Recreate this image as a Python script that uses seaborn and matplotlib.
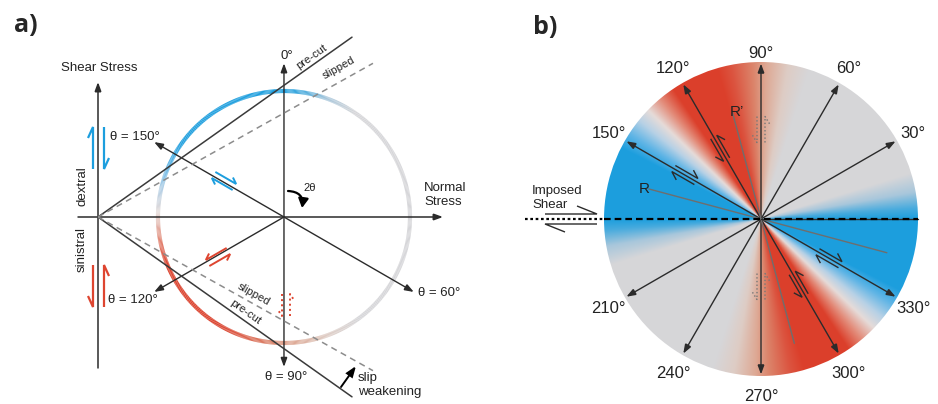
import numpy as np
import pandas as pd
import matplotlib
matplotlib.use("Agg")
import matplotlib.pyplot as plt
import seaborn as sns
from matplotlib.collections import LineCollection
from matplotlib.patches import Circle, FancyArrowPatch

# ---------------- data ----------------
# panel a : Mohr circle in stress units (circle radius = 1)
mohr_center = 1.476
mohr_radius = 1.0
plane_thetas = [0, 60, 90, 120, 150]          # plane angle θ -> radius at 2θ on the circle
plane_radius = [1.22, 1.19, 1.19, 1.19, 1.19]
friction_kinds = ["pre-cut", "slipped"]
friction_angles = [35.3, 29.2]                 # envelope slope angles (deg)
friction_lengths = [2.47, 2.50]

# colour as a function of plane angle θ (deg, modulo 180)
stop_theta = [0, 4, 10, 17, 72, 80, 88, 93, 101, 106, 124, 130, 136, 141, 147, 153, 180]
stop_red = [0.11, 0.28, 0.66, 0.84, 0.84, 0.87, 0.87, 0.86, 0.86, 0.86, 0.86, 0.89, 0.90, 0.72, 0.38, 0.11, 0.11]
stop_green = [0.62, 0.67, 0.78, 0.84, 0.84, 0.80, 0.66, 0.52, 0.33, 0.25, 0.25, 0.55, 0.86, 0.82, 0.71, 0.62, 0.62]
stop_blue = [0.87, 0.87, 0.86, 0.85, 0.85, 0.77, 0.58, 0.42, 0.25, 0.17, 0.17, 0.48, 0.85, 0.90, 0.90, 0.87, 0.87]

# panel b : orientation disk (radius = 1)
b_angles = [30, 60, 90, 120, 150, 210, 240, 270, 300, 330]
b_labels = ["30°", "60°", "90°", "120°", "150°", "210°", "240°", "270°", "300°", "330°"]
r_kinds = ["R", "R’"]
r_angles = [165, 105]
r_extent_pos = [0.74, 0.70]
r_extent_neg = [0.83, 0.82]

# ---------------- helpers ----------------
def theta_color(theta):
    t = np.mod(theta, 180.0)
    return np.stack([np.interp(t, stop_theta, stop_red),
                     np.interp(t, stop_theta, stop_green),
                     np.interp(t, stop_theta, stop_blue)], axis=-1)

SA, OA = 126.0, (98.0, 217.0)    # panel a pixel scale / origin
SB, OB = 157.0, (761.0, 219.0)   # panel b pixel scale / centre

def A(px, py):
    return ((px - OA[0]) / SA, (OA[1] - py) / SA)

def B(px, py):
    return ((px - OB[0]) / SB, (OB[1] - py) / SB)

INK = "#2b2b2b"

def arrow(ax, p0, p1, color=INK, lw=1.0, style="-|>,head_length=0.6,head_width=0.22", ms=9):
    ax.add_patch(FancyArrowPatch(p0, p1, arrowstyle=style, mutation_scale=ms, color=color,
                                 lw=lw, shrinkA=0, shrinkB=0, joinstyle="miter"))

def shear_pair(ax, c, ang, L, gap, bl, bw, sense, color, lw, ls="-"):
    a = np.radians(ang)
    d = np.array([np.cos(a), np.sin(a)])
    p = np.array([-np.sin(a), np.cos(a)])
    c = np.array(c)
    for side, end in ((1, sense), (-1, -sense)):
        base = c + p * side * gap / 2
        tip = base + d * end * L / 2
        tail = base - d * end * L / 2
        barb = tip - d * end * bl + p * side * bw
        ax.plot([tail[0], tip[0], barb[0]], [tail[1], tip[1], barb[1]], color=color, lw=lw,
                ls=ls, solid_joinstyle="miter", solid_capstyle="butt")

# ---------------- figure ----------------
sns.set_theme(style="white")
plt.rcParams["font.family"] = ["Liberation Sans", "DejaVu Sans"]

fig = plt.figure(figsize=(9.38, 4.04), dpi=100)
fig.patch.set_facecolor("white")

# ======== panel a ========
axa = fig.add_axes([0, 0, 470 / 938, 1])
axa.set_xlim(-OA[0] / SA, (470 - OA[0]) / SA)
axa.set_ylim((OA[1] - 404) / SA, OA[1] / SA)
axa.axis("off")

# coloured Mohr circle
phi = np.linspace(0, 360, 721)
xs = mohr_center + mohr_radius * np.cos(np.radians(phi))
ys = mohr_radius * np.sin(np.radians(phi))
segs = np.stack([np.column_stack([xs[:-1], ys[:-1]]), np.column_stack([xs[1:], ys[1:]])], axis=1)
phim = 0.5 * (phi[:-1] + phi[1:])
cols = theta_color((90 - phim) / 2.0)
axa.add_collection(LineCollection(segs, colors=cols, linewidths=3.0, capstyle="butt", zorder=1))

# stress axes
arrow(axa, A(98, 368), A(98, 82), lw=1.1)
arrow(axa, A(78, 217), A(443, 217), lw=1.1)

# friction envelopes (seaborn)
rows = []
for kind, ang, L in zip(friction_kinds, friction_angles, friction_lengths):
    for sgn in (1, -1):
        seg = f"{kind}{sgn}"
        rows.append(dict(sigma=0.0, tau=0.0, kind=kind, seg=seg, order=0))
        rows.append(dict(sigma=L * np.cos(np.radians(ang)), tau=sgn * L * np.sin(np.radians(ang)),
                         kind=kind, seg=seg, order=1))
env = pd.DataFrame(rows)
sns.lineplot(data=env, x="sigma", y="tau", hue="kind", style="kind", units="seg",
             estimator=None, sort=False, palette={"pre-cut": "#3a3a3a", "slipped": "#8c8c8c"},
             dashes={"pre-cut": "", "slipped": (4, 3)}, linewidth=1.1, legend=False, ax=axa, zorder=2)

# radii for plane orientations
for th, rl in zip(plane_thetas, plane_radius):
    ph = np.radians(90 - 2 * th)
    arrow(axa, (mohr_center, 0), (mohr_center + rl * np.cos(ph), rl * np.sin(ph)), lw=1.0)

# 2θ curved arrow
axa.add_patch(FancyArrowPatch(A(288, 191), A(302, 208), connectionstyle="arc3,rad=-0.55",
                              arrowstyle="-|>,head_length=0.55,head_width=0.3", mutation_scale=10,
                              color="black", lw=1.6, shrinkA=0, shrinkB=0))
# slip weakening arrow
arrow(axa, A(341, 387), A(356, 366), color="black", lw=1.4, ms=10)

# shear-sense symbols
BLUE, RED = (0.11, 0.62, 0.87), (0.87, 0.27, 0.19)
shear_pair(axa, A(98.5, 148), 90, 42 / SA, 11 / SA, 11 / SA, 5 / SA, +1, BLUE, 1.6)
shear_pair(axa, A(98.5, 286), 90, 42 / SA, 11 / SA, 11 / SA, 5 / SA, -1, RED, 1.6)
shear_pair(axa, A(224, 181), 150, 24 / SA, 7 / SA, 6 / SA, 4 / SA, +1, BLUE, 1.4)
shear_pair(axa, A(218, 257), 30, 24 / SA, 7 / SA, 6 / SA, 4 / SA, -1, RED, 1.4)
shear_pair(axa, A(286, 305), 90, 22 / SA, 8 / SA, 6 / SA, 4 / SA, -1, RED, 1.4, ls=":")

fa = 9.5
def ta(px, py, s, **kw):
    kw.setdefault("ha", "center")
    kw.setdefault("va", "center")
    kw.setdefault("fontsize", fa)
    kw.setdefault("color", "#222222")
    axa.text(*A(px, py), s, **kw)

ta(99, 68, "Shear Stress")
ta(287, 56, "0°")
ta(312, 57, "pre-cut", rotation=35.3, fontsize=8, rotation_mode="anchor")
ta(339, 68, "slipped", rotation=29.2, fontsize=8, rotation_mode="anchor")
ta(110, 137, "θ = 150°", ha="left")
ta(82, 186, "dextral", rotation=90)
ta(82, 249, "sinistral", rotation=90)
ta(424, 195, "Normal\nStress", ha="left")
ta(310, 188, "2θ", fontsize=8)
ta(108, 300, "θ = 120°", ha="left")
ta(418, 293, "θ = 60°", ha="left")
ta(286, 377, "θ = 90°")
ta(254, 294, "slipped", rotation=-29.2, fontsize=8, rotation_mode="anchor")
ta(245, 312, "pre-cut", rotation=-35.3, fontsize=8, rotation_mode="anchor")
ta(358, 385, "slip\nweakening", ha="left")

# ======== panel b ========
axb = fig.add_axes([470 / 938, 0, 468 / 938, 1])
axb.set_xlim((470 - OB[0]) / SB, (938 - OB[0]) / SB)
axb.set_ylim((OB[1] - 404) / SB, OB[1] / SB)
axb.axis("off")

n = 500
g = np.linspace(-1, 1, n)
gx, gy = np.meshgrid(g, g)
ang = np.degrees(np.arctan2(gy, gx))
img = theta_color(ang)
im = axb.imshow(img, extent=(-1, 1, -1, 1), origin="lower", interpolation="bilinear", zorder=0)
im.set_clip_path(Circle((0, 0), 1.0, transform=axb.transData))

# horizontal imposed-shear line
axb.plot([B(525, 219)[0], -1.0], [0, 0], color="black", lw=1.6, ls=(0, (1.2, 1.2)), zorder=3)
axb.plot([0, 1.0], [0, 0], color=INK, lw=1.0, zorder=3)
axb.plot([-1.0, 1.0], [0, 0], color="black", lw=1.6, ls=(0, (3, 1.8)), zorder=3)

# R and R' traces (seaborn)
rrows = []
for kind, a, rp, rn in zip(r_kinds, r_angles, r_extent_pos, r_extent_neg):
    c, s = np.cos(np.radians(a)), np.sin(np.radians(a))
    rrows.append(dict(x=rp * c, y=rp * s, kind=kind, order=0))
    rrows.append(dict(x=-rn * c, y=-rn * s, kind=kind, order=1))
rdf = pd.DataFrame(rrows)
sns.lineplot(data=rdf, x="x", y="y", units="kind", estimator=None, sort=False,
             color="#6e6e6e", linewidth=1.0, legend=False, ax=axb, zorder=2)

# radial arrows and labels
label_r = {90: 1.065}
for a, lab in zip(b_angles, b_labels):
    c, s = np.cos(np.radians(a)), np.sin(np.radians(a))
    arrow(axb, (0, 0), (0.99 * c, 0.99 * s), lw=1.0)
    r = label_r.get(a, 1.12)
    axb.text(r * c, r * s - 2 / SB, lab, ha="center", va="center", fontsize=12, color="#222222")

# shear-sense symbols on planes
def on(a, r):
    return (r * np.cos(np.radians(a)), r * np.sin(np.radians(a)))

shear_pair(axb, on(150, 0.56), 150, 26 / SB, 7 / SB, 8 / SB, 5 / SB, +1, INK, 1.0)
shear_pair(axb, on(330, 0.50), 330, 26 / SB, 7 / SB, 8 / SB, 5 / SB, +1, INK, 1.0)
shear_pair(axb, on(120, 0.52), 120, 26 / SB, 7 / SB, 8 / SB, 5 / SB, -1, INK, 1.0)
shear_pair(axb, on(300, 0.48), 300, 26 / SB, 7 / SB, 8 / SB, 5 / SB, -1, INK, 1.0)
shear_pair(axb, on(90, 0.57), 90, 26 / SB, 8 / SB, 8 / SB, 5 / SB, -1, "#777777", 1.0, ls=":")
shear_pair(axb, on(270, 0.43), 90, 26 / SB, 8 / SB, 8 / SB, 5 / SB, -1, "#777777", 1.0, ls=":")

# imposed shear couple
shear_pair(axb, B(571, 219), 0, 52 / SB, 10 / SB, 20 / SB, 8 / SB, +1, INK, 1.0)

def tb(px, py, s, **kw):
    kw.setdefault("ha", "center")
    kw.setdefault("va", "center")
    kw.setdefault("color", "#222222")
    axb.text(*B(px, py), s, **kw)

tb(532, 198, "Imposed\nShear", ha="left", fontsize=9.5)
tb(644, 189, "R", fontsize=11)
tb(737, 112, "R’", fontsize=11)

# panel letters
fig.text(26 / 938, 1 - 25 / 404, "a)", ha="center", va="center", fontsize=18,
         fontweight="bold", family=["Open Sans", "DejaVu Sans"])
fig.text(545 / 938, 1 - 27 / 404, "b)", ha="center", va="center", fontsize=18,
         fontweight="bold", family=["Open Sans", "DejaVu Sans"])

fig.savefig("out.png", dpi=100, facecolor="white")
